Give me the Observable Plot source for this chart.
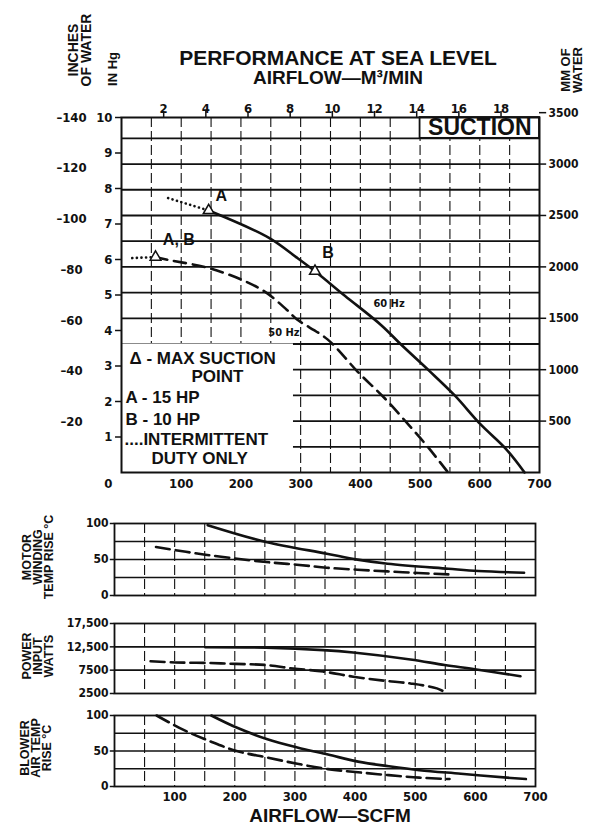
<!DOCTYPE html>
<html><head><meta charset="utf-8">
<script src="https://cdn.jsdelivr.net/npm/d3@7"></script>
<script src="https://cdn.jsdelivr.net/npm/@observablehq/plot@0.6"></script>
<style>
body{margin:0;background:#fff;}
#wrap{position:relative;width:592px;height:829px;overflow:hidden;background:#fff;font-family:"Liberation Sans",Arial,sans-serif;font-weight:bold;color:#111;}
#wrap svg{position:absolute;left:0;}
.lbl{position:absolute;white-space:nowrap;line-height:1;transform:translate(-50%,-50%);text-align:center;}
.rot{transform:translate(-50%,-50%) rotate(-90deg);}
</style></head><body><div id="wrap"></div>
<script>
// ---------- tick values ----------
const m3Ticks = [2, 4, 6, 8, 10, 12, 14, 16, 18];
const scfmTicks = [100, 200, 300, 400, 500, 600, 700];
const inHgTicks = [1, 2, 3, 4, 5, 6, 7, 8, 9, 10];
const inchTicks = [-140, -120, -100, -80, -60, -40, -20];
const mmTicks = [500, 1000, 1500, 2000, 2500, 3000, 3500];
const mmGrid = [250, 500, 750, 1000, 1250, 1500, 1750, 2000, 2250, 2500, 2750, 3000, 3250];
const xGrid = [50, 100, 150, 200, 250, 300, 350, 400, 450, 500, 550, 600, 650];
const SCFM_PER_M3 = 35.31;
const MM_PER_INHG = 345.3;
const INCH_PER_INHG = 14;

// ---------- suction curves (SCFM, in Hg) ----------
const suction60Dotted = [[78, 7.73], [146, 7.38]];
const suction60 = [[146, 7.38], [247, 6.61], [293, 6.06], [324, 5.67], [374, 4.98], [435, 4.15], [469, 3.59], [515, 2.87], [558, 2.17], [601, 1.36], [644, 0.66], [675, 0]];
const suction50Dotted = [[18, 6.04], [57, 6.07]];
const suction50 = [[57, 6.07], [78, 5.99], [146, 5.76], [204, 5.41], [243, 5.06], [277, 4.58], [294, 4.31], [345, 3.75], [396, 2.83], [442, 2.07], [482, 1.32], [511, 0.76], [547, 0]];
const maxSuctionPts = [[146, 7.38], [324, 5.67], [57, 6.07]];
const pointLabels = [{x: 167, y: 7.8, t: "A"}, {x: 96, y: 6.54, t: "A, B"}, {x: 346, y: 6.19, t: "B"}];
const hzLabels = [{x: 448, y: 4.76, t: "60 Hz"}, {x: 272, y: 3.94, t: "50 Hz"}];

// ---------- lower panels ----------
const motor60 = [[155, 97.7], [252, 74.4], [353, 58.1], [404, 49.8], [454, 44.2], [555, 37.2], [605, 34], [681, 31.6]];
const motor50 = [[69, 67.4], [151, 56.7], [252, 46.5], [303, 42.8], [353, 38.6], [404, 35.8], [454, 33.5], [505, 31.2], [555, 29.3]];
const power60 = [[151, 12400], [252, 12300], [347, 11800], [397, 11300], [492, 9800], [549, 8600], [599, 7700], [675, 6200]];
const power50 = [[60, 9400], [101, 9150], [151, 9050], [202, 8850], [252, 8600], [297, 7850], [347, 7200], [397, 6100], [448, 5250], [492, 4650], [536, 3600], [552, 2600]];
const blower60 = [[161, 100], [203, 83], [253, 67], [304, 55], [355, 45], [405, 35], [456, 28.5], [507, 23], [576, 18], [659, 12], [684, 10.5]];
const blower50 = [[70, 100], [114, 80], [158, 64], [203, 50], [253, 41], [304, 32], [355, 24.5], [405, 20], [456, 16], [507, 12.5], [557, 10.5]];
const pctTicks = [0, 50, 100];
const pctGrid = [25, 50, 75];
const powerTicks = [2500, 7500, 12500, 17500];
const powerTickLabels = ["2500", "7500", "12,500", "17,500"];

const INK = "#111";
const NUMFONT = "'DejaVu Sans Condensed','Liberation Sans Narrow','Liberation Sans',sans-serif";
const TXTFONT = "'Liberation Sans',Arial,sans-serif";
const wrap = document.getElementById("wrap");
const style = {background: "transparent", color: INK, fontFamily: NUMFONT, fontSize: "12px", fontWeight: "bold", overflow: "visible"};

// ---------- main chart ----------
const main = Plot.plot({
  width: 592, height: 500,
  marginTop: 117, marginBottom: 28, marginLeft: 121, marginRight: 53,
  x: {domain: [0, 700], axis: null},
  y: {domain: [0, 10], axis: null},
  style,
  marks: [
    Plot.ruleX(xGrid, {stroke: INK, strokeWidth: 1.1, strokeDasharray: "10,4"}),
    Plot.ruleY(mmGrid, {y: d => d / MM_PER_INHG, stroke: INK, strokeWidth: 1.8}),
    Plot.rect([0], {x1: 0, x2: 288, y1: 0, y2: 1250 / MM_PER_INHG, fill: "white"}),
    Plot.rect([0], {x1: 500, x2: 700, y1: 3250 / MM_PER_INHG, y2: 10, fill: "white", stroke: INK, strokeWidth: 1.8}),
    Plot.text(["SUCTION"], {x: 600, y: (10 + 3250 / MM_PER_INHG) / 2, text: d => d, fontFamily: TXTFONT, fontSize: 23, fontWeight: "bold"}),
    Plot.frame({stroke: INK, strokeWidth: 2}),
    // top axis (m3/min)
    Plot.ruleX(m3Ticks, {x: d => d * SCFM_PER_M3, y1: 10, y2: 10.17, stroke: INK, strokeWidth: 1.5}),
    Plot.text(m3Ticks, {x: d => d * SCFM_PER_M3, frameAnchor: "top", dy: -14, textAnchor: "middle", text: d => String(d), fontSize: 13}),
    // left axis in Hg
    Plot.ruleY(inHgTicks, {y: d => d, x1: 0, x2: -10, stroke: INK, strokeWidth: 1.5}),
    Plot.text(inHgTicks, {y: d => d, frameAnchor: "left", dx: -9, textAnchor: "end", text: d => String(d), fontSize: 13}),
    Plot.text([0], {y: d => d, frameAnchor: "left", dx: -9, dy: 11, textAnchor: "end", text: d => String(d), fontSize: 13}),
    // inches of water
    Plot.text(inchTicks, {y: d => -d / INCH_PER_INHG, frameAnchor: "left", dx: -50, textAnchor: "middle", text: d => "\u2013" + Math.abs(d), fontSize: 13}),
    // mm of water (right)
    Plot.ruleY(mmTicks, {y: d => d / MM_PER_INHG, x1: 700, x2: 712, stroke: INK, strokeWidth: 1.5}),
    Plot.text(mmTicks, {y: d => d / MM_PER_INHG, frameAnchor: "right", dx: 9, textAnchor: "start", text: d => String(d), fontSize: 12}),
    // bottom axis
    Plot.text(scfmTicks, {x: d => d, frameAnchor: "bottom", dy: 15, textAnchor: "middle", text: d => String(d), fontSize: 13}),
    // curves
    Plot.line(suction60Dotted, {stroke: INK, strokeWidth: 2.6, strokeDasharray: "0.1,4.5", strokeLinecap: "round"}),
    Plot.line(suction60, {stroke: INK, strokeWidth: 2.6, curve: "catmull-rom"}),
    Plot.line(suction50Dotted, {stroke: INK, strokeWidth: 2.6, strokeDasharray: "0.1,4.5", strokeLinecap: "round"}),
    Plot.line(suction50, {stroke: INK, strokeWidth: 2.6, curve: "catmull-rom", strokeDasharray: "12,7"}),
    Plot.dot(maxSuctionPts, {symbol: "triangle", r: 4, fill: "white", stroke: INK, strokeWidth: 1.5}),
    Plot.text(pointLabels, {x: "x", y: "y", text: "t", fontFamily: TXTFONT, fontSize: 16, fontWeight: "bold"}),
    Plot.text(hzLabels, {x: "x", y: "y", text: "t", fontSize: 11}),
    // legend
    Plot.text(["\u0394 - MAX SUCTION"], {frameAnchor: "bottom-left", dx: 8, dy: -109, textAnchor: "start", text: d => d, fontFamily: TXTFONT, fontSize: 17}),
    Plot.text(["POINT"], {frameAnchor: "bottom-left", dx: 70, dy: -91, textAnchor: "start", text: d => d, fontFamily: TXTFONT, fontSize: 17}),
    Plot.text(["A - 15 HP"], {frameAnchor: "bottom-left", dx: 4, dy: -70, textAnchor: "start", text: d => d, fontFamily: TXTFONT, fontSize: 17}),
    Plot.text(["B - 10 HP"], {frameAnchor: "bottom-left", dx: 4, dy: -48, textAnchor: "start", text: d => d, fontFamily: TXTFONT, fontSize: 17}),
    Plot.text(["....INTERMITTENT"], {frameAnchor: "bottom-left", dx: 3, dy: -28, textAnchor: "start", text: d => d, fontFamily: TXTFONT, fontSize: 17}),
    Plot.text(["DUTY ONLY"], {frameAnchor: "bottom-left", dx: 30, dy: -9, textAnchor: "start", text: d => d, fontFamily: TXTFONT, fontSize: 17})
  ]
});
main.style.top = "0px";
wrap.appendChild(main);

// ---------- lower panels ----------
function panel({top, frameH, yDomain, gridY, yTicks, yFmt, s60, s50, showX}) {
  const mt = 8, mb = showX ? 30 : 8;
  const p = Plot.plot({
    width: 592, height: mt + frameH + mb,
    marginTop: mt, marginBottom: mb, marginLeft: 114, marginRight: 57,
    x: {domain: [0, 700], axis: null},
    y: {domain: yDomain, axis: null},
    style,
    marks: [
      Plot.ruleX(xGrid, {stroke: INK, strokeWidth: 1.1, strokeDasharray: "10,4"}),
      Plot.ruleY(gridY, {stroke: INK, strokeWidth: 1.6}),
      Plot.frame({stroke: INK, strokeWidth: 1.8}),
      Plot.ruleY(yTicks, {y: d => d, x1: 0, x2: -7, stroke: INK, strokeWidth: 1.5}),
      Plot.text(yTicks, {y: d => d, frameAnchor: "left", dx: -6, textAnchor: "end", text: yFmt, fontSize: 12}),
      Plot.line(s60, {stroke: INK, strokeWidth: 2.6, curve: "catmull-rom"}),
      Plot.line(s50, {stroke: INK, strokeWidth: 2.6, curve: "catmull-rom", strokeDasharray: "14,6"}),
      showX ? Plot.text(scfmTicks, {x: d => d, frameAnchor: "bottom", dy: 14, textAnchor: "middle", text: d => String(d), fontSize: 13}) : null
    ]
  });
  p.style.top = (top - mt) + "px";
  wrap.appendChild(p);
}
panel({top: 523, frameH: 72, yDomain: [0, 100], gridY: pctGrid, yTicks: pctTicks, yFmt: d => String(d), s60: motor60, s50: motor50});
panel({top: 623, frameH: 70, yDomain: [2500, 17500], gridY: [7500, 12500], yTicks: powerTicks, yFmt: (d, i) => powerTickLabels[i], s60: power60, s50: power50});
panel({top: 715, frameH: 71, yDomain: [0, 100], gridY: pctGrid, yTicks: pctTicks, yFmt: d => String(d), s60: blower60, s50: blower50, showX: true});

// ---------- titles & axis names ----------
function label(html, cx, cy, size, rotate, lh) {
  const d = document.createElement("div");
  d.className = "lbl" + (rotate ? " rot" : "");
  d.innerHTML = html;
  d.style.left = cx + "px";
  d.style.top = cy + "px";
  d.style.fontSize = size + "px";
  if (lh) d.style.lineHeight = lh + "px";
  wrap.appendChild(d);
}
label("PERFORMANCE AT SEA LEVEL", 338, 57, 21);
label("AIRFLOW\u2014M\u00B3/MIN", 338, 77, 19);
label("INCHES<br>OF WATER", 80, 50, 14, true, 13);
label("IN Hg", 112, 69, 13, true);
label("MM OF<br>WATER", 572, 70, 13, true, 12);
label("MOTOR<br>WINDING<br>TEMP RISE \u00B0C", 38, 557, 12.5, true, 11);
label("POWER<br>INPUT<br>WATTS", 38, 656, 12.5, true, 11);
label("BLOWER<br>AIR TEMP<br>RISE \u00B0C", 36, 748, 12.5, true, 11);
label("AIRFLOW\u2014SCFM", 330, 815, 19);
</script></body></html>
